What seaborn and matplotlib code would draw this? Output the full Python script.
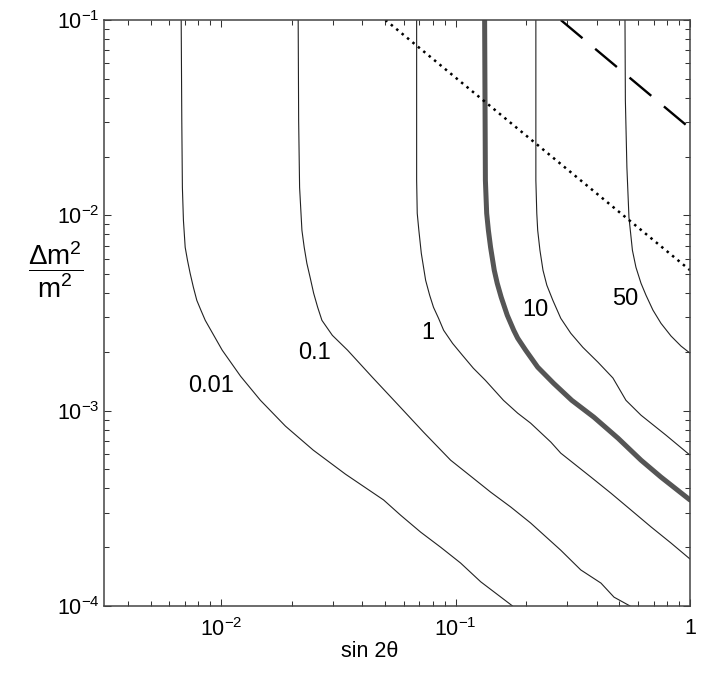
import numpy as np
import matplotlib
matplotlib.use('Agg')
import matplotlib.pyplot as plt
from matplotlib.ticker import FixedLocator, LogLocator, FuncFormatter, NullFormatter
import seaborn as sns

# contour lines: x = sin 2theta, y = dm^2/m^2
c001_x = [6.75e-3, 6.79e-3, 6.83e-3, 6.90e-3, 7.02e-3, 7.18e-3, 7.37e-3, 7.61e-3, 7.87e-3,
          8.19e-3, 8.55e-3, 1.01e-2, 1.21e-2, 1.47e-2, 1.88e-2, 2.47e-2, 3.39e-2, 4.93e-2,
          5.82e-2, 7.09e-2, 8.63e-2, 0.105, 0.128, 0.175]
c001_y = [0.1, 3.06e-2, 1.39e-2, 9.43e-3, 6.86e-3, 5.89e-3, 5.05e-3, 4.28e-3, 3.67e-3,
          3.27e-3, 2.90e-3, 2.04e-3, 1.50e-3, 1.13e-3, 8.33e-4, 6.28e-4, 4.73e-4, 3.49e-4,
          2.92e-4, 2.39e-4, 2.00e-4, 1.66e-4, 1.33e-4, 1e-4]

c01_x = [2.13e-2, 2.14e-2, 2.16e-2, 2.19e-2, 2.21e-2, 2.26e-2, 2.32e-2, 2.40e-2, 2.48e-2,
         2.58e-2, 2.69e-2, 2.98e-2, 3.46e-2, 4.42e-2, 5.65e-2, 7.30e-2, 9.52e-2, 0.116,
         0.141, 0.172, 0.209, 0.281, 0.342, 0.417, 0.474, 0.555]
c01_y = [0.1, 3.06e-2, 1.39e-2, 1.024e-2, 8.38e-3, 6.86e-3, 5.68e-3, 4.76e-3, 3.99e-3,
         3.38e-3, 2.90e-3, 2.43e-3, 2.04e-3, 1.48e-3, 1.08e-3, 7.76e-4, 5.58e-4, 4.62e-4,
         3.83e-4, 3.21e-4, 2.66e-4, 1.93e-4, 1.53e-4, 1.31e-4, 1.11e-4, 1e-4]

c1_x = [6.82e-2, 6.82e-2, 6.86e-2, 6.97e-2, 7.14e-2, 7.45e-2, 7.75e-2, 8.05e-2, 8.46e-2,
        8.89e-2, 9.71e-2, 0.107, 0.119, 0.134, 0.160, 0.184, 0.209, 0.255, 0.281, 0.378,
        0.460, 0.560, 0.682, 0.830, 1.0]
c1_y = [0.1, 1.51e-2, 1.024e-2, 8.38e-3, 6.39e-3, 4.65e-3, 3.90e-3, 3.38e-3, 2.97e-3,
        2.58e-3, 2.21e-3, 1.92e-3, 1.65e-3, 1.43e-3, 1.13e-3, 9.71e-4, 8.63e-4, 6.90e-4,
        6.06e-4, 4.57e-4, 3.78e-4, 3.10e-4, 2.54e-4, 2.10e-4, 1.74e-4]

thick_x = [0.133, 0.134, 0.1357, 0.138, 0.141, 0.1462, 0.1505, 0.1565, 0.1661, 0.177, 0.184,
           0.199, 0.224, 0.262, 0.313, 0.389, 0.493, 0.618, 0.752, 1.0]
thick_y = [0.1, 1.51e-2, 1.024e-2, 8.38e-3, 6.86e-3, 5.23e-3, 4.49e-3, 3.81e-3, 3.08e-3,
           2.58e-3, 2.35e-3, 2.04e-3, 1.67e-3, 1.38e-3, 1.13e-3, 9.26e-4, 7.23e-4,
           5.58e-4, 4.57e-4, 3.49e-4]

c10_x = [0.220, 0.220, 0.222, 0.224, 0.229, 0.236, 0.245, 0.260, 0.281, 0.310, 0.349,
         0.405, 0.469, 0.533, 0.618, 0.790, 1.0]
c10_y = [0.1, 1.51e-2, 1.024e-2, 8.38e-3, 6.62e-3, 5.23e-3, 4.39e-3, 3.67e-3, 2.97e-3,
         2.49e-3, 2.11e-3, 1.77e-3, 1.47e-3, 1.13e-3, 9.48e-4, 7.49e-4, 5.92e-4]

c50_x = [0.528, 0.530, 0.538, 0.549, 0.568, 0.588, 0.618, 0.649, 0.695, 0.752, 0.830,
         0.916, 1.0]
c50_y = [0.1, 3.88e-2, 1.76e-2, 9.77e-3, 6.62e-3, 5.42e-3, 4.49e-3, 3.90e-3, 3.27e-3,
         2.80e-3, 2.41e-3, 2.14e-3, 1.97e-3]

dotted_x = [0.0502, 1.0]
dotted_y = [0.1, 5.24e-3]
dashed_x = [0.281, 1.0]
dashed_y = [0.1, 0.0279]

labels = ['0.01', '0.1', '1', '10', '50']
label_x = [9.06e-3, 2.51e-2, 7.60e-2, 0.218, 0.528]
label_y = [1.33e-3, 1.97e-3, 2.49e-3, 3.27e-3, 3.72e-3]

sns.set_style('ticks')
plt.rcParams['font.family'] = ['Liberation Sans', 'DejaVu Sans']
plt.rcParams['mathtext.fontset'] = 'custom'
plt.rcParams['mathtext.rm'] = 'Liberation Sans'
plt.rcParams['mathtext.it'] = 'Liberation Sans:italic'
plt.rcParams['mathtext.default'] = 'regular'
plt.rcParams['text.color'] = 'black'
plt.rcParams['axes.labelcolor'] = 'black'
plt.rcParams['xtick.color'] = 'black'
plt.rcParams['ytick.color'] = 'black'

fig = plt.figure(figsize=(7.14, 6.92), dpi=100)
ax = fig.add_axes([104 / 714, 86 / 692, 586 / 714, 586 / 692])

thin = dict(color='#222222', lw=0.8, sort=False, estimator=None, ax=ax)
for xs, ys in [(c001_x, c001_y), (c01_x, c01_y), (c1_x, c1_y), (c10_x, c10_y), (c50_x, c50_y)]:
    sns.lineplot(x=xs, y=ys, **thin)
sns.lineplot(x=thick_x, y=thick_y, color='#555555', lw=3.6, sort=False, estimator=None, ax=ax)
sns.lineplot(x=dotted_x, y=dotted_y, color='black', lw=1.8, sort=False, estimator=None, ax=ax)
ax.lines[-1].set_dashes((1, 1.8))
sns.lineplot(x=dashed_x, y=dashed_y, color='black', lw=1.7, sort=False, estimator=None, ax=ax)
ax.lines[-1].set_dashes((12, 7))

for t, lx, ly in zip(labels, label_x, label_y):
    ax.text(lx, ly, t, fontsize=17, ha='center', va='center')

ax.set_xscale('log')
ax.set_yscale('log')
ax.set_xlim(10 ** -2.5, 1)
ax.set_ylim(1e-4, 1e-1)

ax.xaxis.set_major_locator(FixedLocator([1e-2, 1e-1, 1]))
ax.yaxis.set_major_locator(FixedLocator([1e-4, 1e-3, 1e-2, 1e-1]))
for a in (ax.xaxis, ax.yaxis):
    a.set_minor_locator(LogLocator(base=10, subs=np.arange(2, 10) * 1.0, numticks=20))
    a.set_minor_formatter(NullFormatter())


def fmt(v, pos):
    e = int(round(np.log10(v)))
    if e == 0:
        return '1'
    return r'$10^{%d}$' % e


ax.xaxis.set_major_formatter(FuncFormatter(fmt))
ax.yaxis.set_major_formatter(FuncFormatter(fmt))

ax.tick_params(which='both', direction='in', top=True, right=True, width=0.75, color='#333333')
ax.tick_params(which='major', length=4.8, labelsize=15.5)
ax.tick_params(which='minor', length=3.3)
ax.tick_params(axis='x', which='major', pad=9)
ax.tick_params(axis='y', which='major', pad=3)
for s in ax.spines.values():
    s.set_linewidth(1.1)
    s.set_color('#444444')

ax.set_xlabel(u'sin 2\u03b8', fontsize=15.5)
ax.xaxis.set_label_coords(0.454, -0.060)
ax.set_ylabel(r'$\dfrac{\Delta m^2}{m^2}$', fontsize=20, rotation=0, ha='center', va='center')
ax.yaxis.set_label_coords(-0.082, 0.573)

fig.savefig('out.png', dpi=100)
